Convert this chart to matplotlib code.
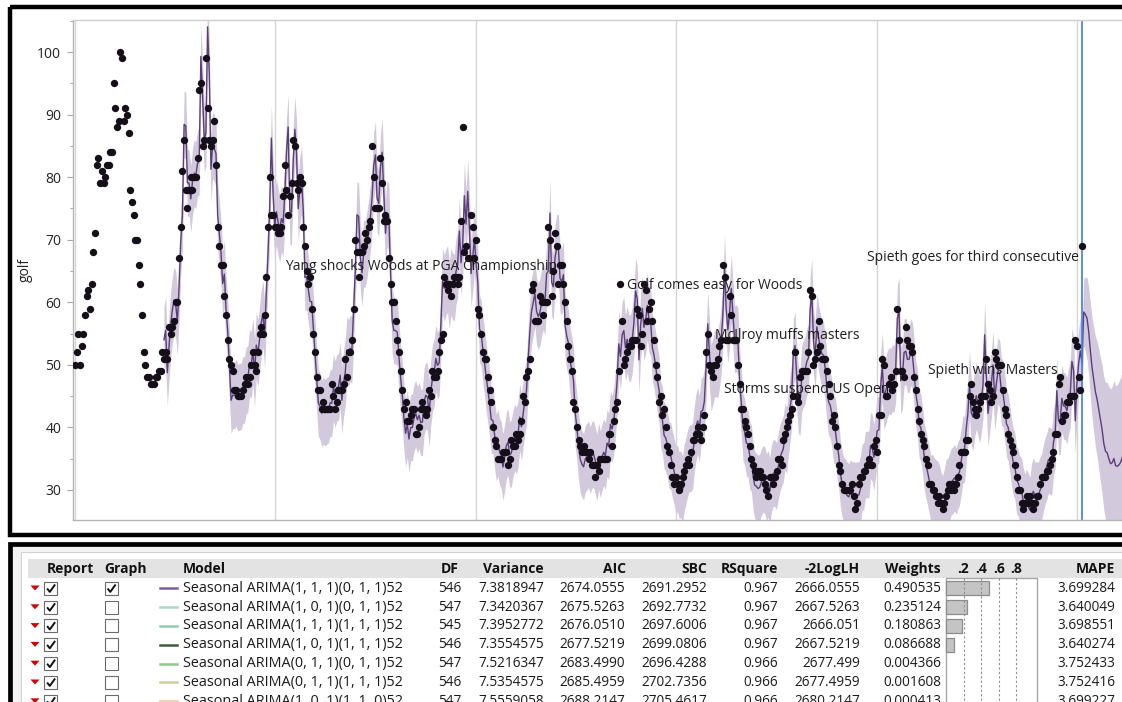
import numpy as np
import matplotlib
matplotlib.use("Agg")
import matplotlib.pyplot as plt
from matplotlib.patches import Rectangle, Polygon
from matplotlib.lines import Line2D
from matplotlib.ticker import MultipleLocator

plt.rcParams['font.family'] = ['Open Sans', 'Noto Sans', 'DejaVu Sans']

# ---------------- weekly search index "golf" -------------
golf_seg1 = [50, 52, 55, 50, 53, 55, 58, 61, 62, 59, 63, 68, 71, 82, 83, 79, 81, 79, 80, 82,
             82, 84, 84, 95, 91, 88, 89, 100, 99, 89, 91, 90, 87, 78, 76, 74, 70, 70, 66, 63,
             58, 52, 50, 48, 48, 47, 47, 47, 48, 48, 49, 49]
golf_seg2 = [52, 51, 52, 51, 56, 55, 56, 57, 60, 60, 67, 72, 81, 86, 78, 75, 78, 80, 78, 80,
             80, 83, 94, 95, 85, 86, 99, 91, 86, 85, 86, 89, 82, 72, 69, 66, 66, 61, 58, 54,
             51, 50, 49, 46, 46, 45, 45, 45, 46, 47, 48, 47, 48, 50, 52, 50, 49, 52, 55, 56,
             55, 58]
golf_seg3 = [64, 72, 80, 74, 74, 72, 72, 71, 71, 72, 77, 82, 78, 74, 77, 79, 86, 85, 79, 78,
             80, 79, 72, 69, 65, 63, 64, 59, 55, 52, 48, 46, 46, 43, 44, 43, 43, 43, 43, 47,
             45, 43, 44, 46, 46, 46, 47, 51, 48, 52, 52, 54, 59, 70, 68, 64, 68, 68, 69, 71,
             70, 72, 73, 85]
golf_seg4 = [80, 75, 75, 75, 83, 79, 73, 74, 73, 67, 63, 60, 60, 57, 54, 52, 49, 46, 43, 44,
             41, 41, 42, 43, 43, 39, 39, 40, 43, 44, 43, 42, 43, 46, 45, 49, 48, 48, 49, 52,
             54, 55, 64, 63, 62, 63, 61, 63, 64, 64, 63, 64, 73, 88, 68, 69, 67, 67, 74, 72,
             67, 70, 59, 58, 55, 52, 51, 51, 48, 46, 44, 40, 38, 37, 35, 35, 35, 36, 36, 36,
             34, 35, 38, 37, 37, 39, 38, 39, 41, 45]
golf_seg5 = [44, 48, 49, 51, 62, 63, 57, 57, 57, 61, 60, 58, 60, 60, 72, 70, 61, 65, 71, 69,
             63, 66, 66, 63, 60, 57, 53, 51, 49, 44, 43, 40, 38, 37, 36, 37, 36, 36, 35, 36,
             34, 34, 32, 34, 33, 35, 35, 35, 35, 35, 39, 39, 37, 41, 43, 44, 49, 63, 57, 50,
             51, 52, 53, 53, 54, 54, 54, 59, 58, 53, 55, 63, 62, 57, 59, 60, 57, 54, 50, 48,
             44, 45, 42, 43, 40, 37, 36, 34, 32, 31]
golf_seg6 = [32, 31, 30, 31, 32, 33, 34, 35, 34, 36, 38, 38, 39, 40, 39, 38, 40, 42, 52, 55,
             50, 49, 48, 50, 50, 51, 53, 54, 66, 64, 54, 54, 61, 58, 54, 54, 54, 50, 47, 43,
             43, 41, 40, 39, 37, 35, 34, 33, 32, 33, 33, 32, 32, 31, 30, 29, 32, 32, 31, 32,
             33, 35, 35, 34, 38, 39, 40, 41, 42, 43, 45, 52, 45, 44, 48, 49, 49, 49, 49, 52,
             62]
golf_seg7 = [61, 50, 51, 52, 57, 53, 51, 51, 51, 49, 47, 45, 41, 42, 40, 37, 34, 33, 31, 30,
             30, 30, 30, 30, 31, 29, 27, 28, 31, 32, 32, 33, 33, 34, 35, 34, 34, 37, 38, 36,
             42, 42, 51, 50, 45, 45, 47, 48, 46, 47, 49, 59, 54, 49, 49, 48, 56, 54, 53, 53,
             52, 48, 46, 43, 41, 39, 38, 37, 35, 34, 31, 31, 30, 30, 29, 28, 29, 28, 27, 28,
             29, 30, 31, 30, 31, 30, 31, 32, 34, 36, 36, 36, 38, 38, 45, 47, 44, 43]
golf_seg8 = [42, 43, 44, 45, 45, 45, 51, 47, 46, 44, 45, 52, 51, 50, 50, 50, 46, 43, 42, 39,
             38, 37, 36, 34, 32, 30, 30, 28, 27, 28, 29, 28, 29, 28, 27, 28, 29, 29, 31, 32,
             32, 32, 33, 33, 34, 35, 36, 39, 39, 47, 48, 41, 42, 42, 44, 44, 45, 45, 45, 54,
             53, 48, 46, 69]

# labelled events: week index of the labelled point, text, side of the label
event_weeks = [289, 325, 377, 487, 587, 600]
event_texts = ["Yang shocks Woods at PGA Championship", "Golf comes easy for Woods",
               "McIlroy muffs masters", "Storms suspend US Open", "Spieth wins Masters",
               "Spieth goes for third consecutive"]
event_sides = ["left", "right", "right", "left", "left", "left"]

# ---------------- model comparison table ----------------
models = ["Seasonal ARIMA(1, 1, 1)(0, 1, 1)52", "Seasonal ARIMA(1, 0, 1)(0, 1, 1)52",
          "Seasonal ARIMA(1, 1, 1)(1, 1, 1)52", "Seasonal ARIMA(1, 0, 1)(1, 1, 1)52",
          "Seasonal ARIMA(0, 1, 1)(0, 1, 1)52", "Seasonal ARIMA(0, 1, 1)(1, 1, 1)52",
          "Seasonal ARIMA(1, 0, 1)(1, 1, 0)52"]
df_vals = [546, 547, 545, 546, 547, 546, 547]
variance = [7.3818947, 7.3420367, 7.3952772, 7.3554575, 7.5216347, 7.5354575, 7.5559058]
aic = [2674.0555, 2675.5263, 2676.0510, 2677.5219, 2683.4990, 2685.4959, 2688.2147]
sbc = [2691.2952, 2692.7732, 2697.6006, 2699.0806, 2696.4288, 2702.7356, 2705.4617]
rsquare = [0.967, 0.967, 0.967, 0.967, 0.966, 0.966, 0.966]
loglh = [2666.0555, 2667.5263, 2666.0510, 2667.5219, 2677.4990, 2677.4959, 2680.2147]
weights = [0.490535, 0.235124, 0.180863, 0.086688, 0.004366, 0.001608, 0.000413]
mape = [3.699284, 3.640049, 3.698551, 3.640274, 3.752433, 3.752416, 3.699227]
report_checked = [True, True, True, True, True, True, True]
graph_checked = [True, False, False, False, False, False, False]
model_colors = ["#7b5e9c", "#a9d8cc", "#8fcfb0", "#3e5a3c", "#90c690", "#cfcf98", "#f2c9a2"]
weight_ticks = [0.2, 0.4, 0.6, 0.8]

# ---------------- styles ----------------
C_BAND = "#d3c9dc"
C_LINE = "#5a3d7a"
C_PT = "#150f1a"
C_BLUE = "#3b7ee8"
C_AX = "#a8a8a8"

W, H = 1122, 702
fig = plt.figure(figsize=(W / 100, H / 100), dpi=100)

golf = np.array(golf_seg1 + golf_seg2 + golf_seg3 + golf_seg4 + golf_seg5 +
                golf_seg6 + golf_seg7 + golf_seg8, dtype=float)
N = len(golf)
weeks = np.arange(N)

# one-step-ahead fit and forecast of an airline-type seasonal model
theta, Theta, season = 0.5, 0.6, 52
horizon = 40
ext = np.concatenate([golf, np.full(horizon, np.nan)])
yhat = np.full(N + horizon, np.nan)
err = np.zeros(N + horizon)
for t in range(season + 1, N + horizon):
    yhat[t] = (ext[t - 1] + ext[t - season] - ext[t - season - 1]
               - theta * err[t - 1] - Theta * err[t - season]
               + theta * Theta * err[t - season - 1])
    if t < N:
        err[t] = ext[t] - yhat[t]
    else:
        ext[t] = yhat[t]
sigma2 = variance[0]
steps = np.arange(N + horizon) - (N - 1)
var_t = np.where(steps <= 0, sigma2, sigma2 * (1 + (steps - 1) * (1 - theta) ** 2))
half = 1.96 * np.sqrt(var_t)
fit_idx = np.arange(season + 1, N + horizon)

# ---------------- time-series axes ----------------
px_left, px_right, px_top, px_bot = 73, 1150, 20, 520
px_first, px_last = 75, 1082
pxw = (px_last - px_first) / (N - 1)
ax = fig.add_axes([px_left / W, 1 - px_bot / H, (px_right - px_left) / W, (px_bot - px_top) / H])
x0 = -(px_first - px_left) / pxw
ax.set_xlim(x0, x0 + (px_right - px_left) / pxw)
ax.set_ylim(100 - (px_bot - 52) / 6.257, 100 + (52 - px_top) / 6.257)

ax.fill_between(fit_idx, yhat[fit_idx] - half[fit_idx], yhat[fit_idx] + half[fit_idx],
                color=C_BAND, lw=0, zorder=1)
ax.plot(fit_idx, yhat[fit_idx], color=C_LINE, lw=1.0, zorder=2)
ax.axvline(N - 1, color=C_BLUE, lw=1.2, zorder=2.5)
ax.scatter(weeks, golf, s=28, color=C_PT, linewidths=0, zorder=3)

ax.xaxis.set_major_locator(MultipleLocator(119.4))
ax.grid(axis='x', color='#d6d6d6', lw=1.0, zorder=0)
ax.set_axisbelow(True)
ax.tick_params(axis='x', length=0, labelbottom=False)
ax.yaxis.set_major_locator(MultipleLocator(10))
ax.yaxis.set_minor_locator(MultipleLocator(5))
ax.tick_params(axis='y', which='major', length=4.5, width=0.8, color=C_AX, pad=4,
               labelsize=10, labelcolor='#222222')
ax.tick_params(axis='y', which='minor', length=2.5, width=0.8, color=C_AX)
for s in ['left', 'bottom', 'top']:
    ax.spines[s].set_color('#b4b4b4')
    ax.spines[s].set_linewidth(1.0)
ax.spines['top'].set_color('#cfcfcf')
ax.spines['right'].set_visible(False)
ax.set_ylabel("golf", fontsize=10, color='#222222')
ax.yaxis.set_label_coords((33 - px_left) / (px_right - px_left), 0.5)

for wk, txt, side in zip(event_weeks, event_texts, event_sides):
    dy = -1.5
    if wk == N - 1:
        dy = -8
    elif wk == 587:
        dy = 5
    elif wk == 487:
        dy = 0
    if side == "left":
        ax.annotate(txt, xy=(wk, golf[wk]), xytext=(-2, dy), textcoords='offset points',
                    ha='right', va='center', fontsize=10, color='#1e1e1e', zorder=5)
    else:
        ax.annotate(txt, xy=(wk, golf[wk]), xytext=(5, dy), textcoords='offset points',
                    ha='left', va='center', fontsize=10, color='#1e1e1e', zorder=5)

# ---------------- overlay (pixel coordinates) for frames and table ----------------
ov = fig.add_axes([0, 0, 1, 1], zorder=10)
ov.set_xlim(0, W)
ov.set_ylim(H, 0)
ov.axis('off')
ov.patch.set_visible(False)

ov.add_patch(Rectangle((10, 6.5), 1150, 528, fill=False, ec='black', lw=3.2))
ov.add_patch(Rectangle((10, 543.5), 1150, 200, fc='#f3f3f3', ec='black', lw=3.4))
ov.add_patch(Rectangle((21, 552), 1140, 200, fc='white', ec='#d2d2d2', lw=0.8))
ov.add_patch(Rectangle((28, 559), 1140, 19, fc='#e3e3e3', ec='none'))

fs = 9.8
hy = 569
hdr = dict(fontsize=10, fontweight='bold', color='#111111', va='center')
ov.text(47, hy, "Report", ha='left', **hdr)
ov.text(104, hy, "Graph", ha='left', **hdr)
ov.text(183, hy, "Model", ha='left', **hdr)
ov.text(459, hy, "DF", ha='right', **hdr)
ov.text(544, hy, "Variance", ha='right', **hdr)
ov.text(626, hy, "AIC", ha='right', **hdr)
ov.text(707, hy, "SBC", ha='right', **hdr)
ov.text(778, hy, "RSquare", ha='right', **hdr)
ov.text(860, hy, "-2LogLH", ha='right', **hdr)
ov.text(941, hy, "Weights", ha='right', **hdr)
ov.text(1115, hy, "MAPE", ha='right', **hdr)

bx0, bscale = 946, 88
for wt in weight_ticks:
    ov.text(bx0 + wt * bscale, hy, "." + str(wt)[2:], ha='center', **hdr)
    ov.add_line(Line2D([bx0 + wt * bscale] * 2, [578, 720], color='#8f8f8f', lw=0.8,
                       ls=(0, (2, 2))))
ov.add_patch(Rectangle((bx0, 578), 91, 150, fill=False, ec='#a6a6a6', lw=1.0))

row0, rstep = 588.3, 18.8
val = dict(fontsize=fs, color='#1a1a1a', va='center')


def checkbox(x, y, checked):
    ov.add_patch(Rectangle((x, y - 6.5), 13, 13, fc='white', ec='#6a6a6a', lw=0.8))
    if checked:
        ov.add_line(Line2D([x + 2.6, x + 5.3, x + 10.6], [y + 0.2, y + 3.6, y - 3.8],
                           color='#111111', lw=1.4, solid_capstyle='butt'))


for i in range(len(models)):
    y = row0 + i * rstep
    ov.add_patch(Polygon([[30.5, y - 2.8], [39.5, y - 2.8], [35, y + 2.2]], closed=True,
                         fc='#d40000', ec='none'))
    checkbox(44.5, y, report_checked[i])
    checkbox(105, y, graph_checked[i])
    ov.add_line(Line2D([160, 177], [y, y], color=model_colors[i], lw=1.8))
    ov.text(183, y, models[i], ha='left', fontsize=10.4, color='#1a1a1a', va='center')
    ov.text(461, y, str(df_vals[i]), ha='right', **val)
    ov.text(544, y, f"{variance[i]:.7f}", ha='right', **val)
    ov.text(625, y, f"{aic[i]:.4f}", ha='right', **val)
    ov.text(707, y, f"{sbc[i]:.4f}", ha='right', **val)
    ov.text(778, y, f"{rsquare[i]:.3f}", ha='right', **val)
    ov.text(860, y, f"{loglh[i]:.4f}".rstrip('0'), ha='right', **val)
    ov.text(941, y, f"{weights[i]:.6f}", ha='right', **val)
    ov.text(1115, y, f"{mape[i]:.6f}", ha='right', **val)
    if weights[i] * bscale >= 1:
        ov.add_patch(Rectangle((bx0, y - 7), weights[i] * bscale, 14, fc='#c4c4c4',
                               ec='#8c8c8c', lw=0.9))

fig.savefig("out.png", dpi=100)
